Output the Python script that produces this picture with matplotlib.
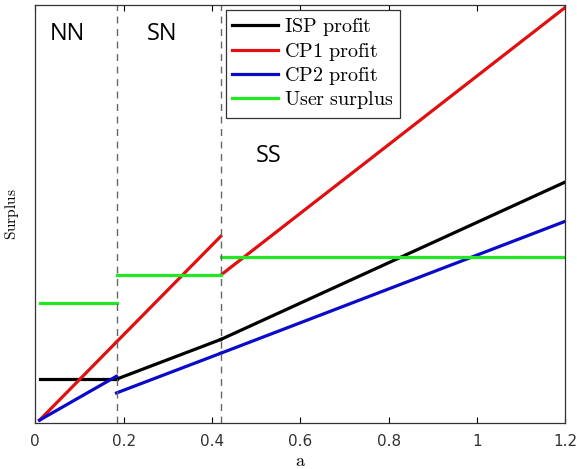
import matplotlib
matplotlib.use('Agg')
import matplotlib.pyplot as plt

plt.rcParams['mathtext.fontset'] = 'cm'

# regime boundaries on the a axis
a_bounds = [0.01, 0.184, 0.42, 1.2]

# piecewise-linear segments per regime: (start, end) values
isp_profit = [(0.105, 0.105), (0.105, 0.200), (0.200, 0.577)]
cp1_profit = [(0.007, 0.194), (0.194, 0.447), (0.354, 0.995)]
cp2_profit = [(0.007, 0.112), (0.072, 0.167), (0.167, 0.483)]
user_surplus = [(0.287, 0.287), (0.354, 0.354), (0.397, 0.397)]

series = [
    ('ISP profit', isp_profit, '#000000'),
    ('CP1 profit', cp1_profit, '#e01010'),
    ('CP2 profit', cp2_profit, '#0a0ac8'),
    ('User surplus', user_surplus, '#22e822'),
]

regions = ['NN', 'SN', 'SS']
region_pos = [(0.06, 0.93), (0.24, 0.93), (0.44, 0.64)]

fig = plt.figure(figsize=(5.77, 4.69), dpi=100)
ax = fig.add_axes([0.061, 0.098, 0.919, 0.891])

for name, segs, color in series:
    for i, (y0, y1) in enumerate(segs):
        ax.plot([a_bounds[i], a_bounds[i + 1]], [y0, y1], color=color, lw=2.3,
                label=r'$\mathrm{' + name.replace(' ', r'\ ') + '}$' if i == 0 else None)

for xb in a_bounds[1:3]:
    ax.axvline(xb, color='#666666', lw=1.0, ls=(0, (5, 4)))

for txt, (tx, ty) in zip(regions, region_pos):
    ax.text(tx, ty, txt, transform=ax.transAxes, fontsize=17, family='Open Sans',
            ha='center', va='center')

ax.set_xlim(0, 1.2)
ax.set_ylim(0, 1.0)
ax.set_xticks([0, 0.2, 0.4, 0.6, 0.8, 1.0, 1.2])
ax.set_xticklabels(['0', '0.2', '0.4', '0.6', '0.8', '1', '1.2'])
ax.set_yticks([])
ax.tick_params(axis='x', direction='in', top=True, length=4, labelsize=11,
               labelcolor='#333333', pad=8)
for s in ax.spines.values():
    s.set_color('#333333')
    s.set_linewidth(0.9)

ax.set_xlabel(r'$\mathrm{a}$', fontsize=13, labelpad=2)
ax.set_ylabel(r'$\mathrm{Surplus}$', fontsize=11, labelpad=10)

leg = ax.legend(loc='upper left', bbox_to_anchor=(0.36, 0.988), fontsize=14.5,
                handlelength=2.3, handletextpad=0.3, labelspacing=0.12,
                borderpad=0.3, fancybox=False, framealpha=1, borderaxespad=0)
leg.get_frame().set_edgecolor('#333333')
leg.get_frame().set_linewidth(0.9)

plt.savefig('out.png', dpi=100)
